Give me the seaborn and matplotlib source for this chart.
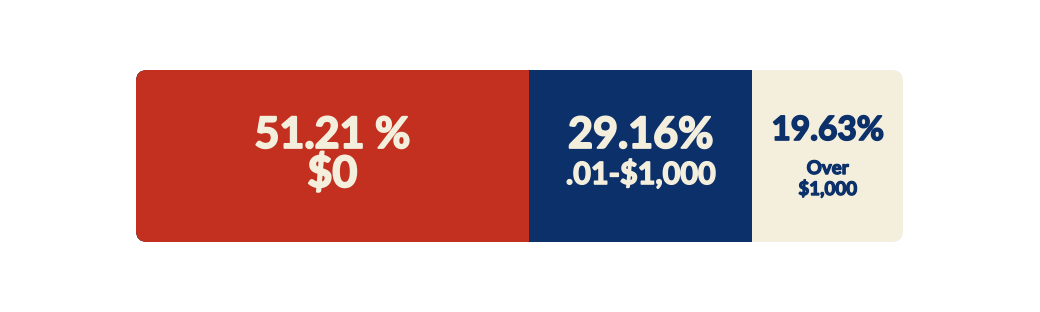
import matplotlib
matplotlib.use("Agg")
import matplotlib.pyplot as plt
import matplotlib.patheffects as pe
import seaborn as sns
import pandas as pd
from matplotlib.patches import FancyBboxPatch
from matplotlib.transforms import Affine2D, blended_transform_factory

# ---- data ----
categories = ["$0", ".01-$1,000", "Over\n$1,000"]
shares = [51.21, 29.16, 19.63]
pct_labels = ["51.21 %", "29.16%", "19.63%"]
colors = ["#C3301F", "#0B306A", "#F4EEDD"]
text_colors = ["#F4EEDD", "#F4EEDD", "#0B306A"]

sns.set_theme(style="white")
plt.rcParams["font.family"] = ["Lato", "DejaVu Sans"]

W, H, DPI = 1040, 312, 100
fig = plt.figure(figsize=(W / DPI, H / DPI), dpi=DPI)
fig.patch.set_facecolor("white")

x0, x1, ytop, ybot = 136, 903, 70, 242
ax = fig.add_axes([x0 / W, (H - ybot) / H, (x1 - x0) / W, (ybot - ytop) / H])

# cumulative ends for stacked look
cum = []
s = 0
for v in shares:
    s += v
    cum.append(s)
df = pd.DataFrame({"seg": categories, "end": cum, "row": ["a"] * 3})
order = list(reversed(categories))
sns.barplot(data=df, x="end", y="row", hue="seg", hue_order=order,
            palette=dict(zip(categories, colors)), dodge=False, width=1.0,
            orient="h", ax=ax, legend=False, saturation=1, edgecolor="none",
            linewidth=0)

ax.set_xlim(0, cum[-1])
ax.set_ylim(0.5, -0.5)
ax.axis("off")

# rounded clip in pixel units
clip = FancyBboxPatch((x0, H - ybot), x1 - x0, ybot - ytop,
                      boxstyle="round,pad=0,rounding_size=11",
                      transform=Affine2D().scale(1 / DPI) + fig.dpi_scale_trans,
                      facecolor="none", edgecolor="none")
for p in ax.patches:
    p.set_clip_path(clip)

tr = blended_transform_factory(ax.transData, ax.transAxes)
starts = [0] + cum[:-1]
centers = [st + v / 2 for st, v in zip(starts, shares)]


def label(xc, yf, txt, size, color, stroke):
    ax.text(xc, yf, txt, transform=tr, ha="center", va="baseline",
            fontsize=size, fontweight="bold", color=color,
            path_effects=[pe.withStroke(linewidth=stroke, foreground=color)])


# segment 1
label(centers[0], 0.547, pct_labels[0], 31, text_colors[0], 1.4)
label(centers[0], 0.32, categories[0], 31, text_colors[0], 1.4)
# segment 2
label(centers[1], 0.547, pct_labels[1], 31, text_colors[1], 1.4)
label(centers[1], 0.337, categories[1], 22, text_colors[1], 1.1)
# segment 3
label(centers[2], 0.593, pct_labels[2], 24, text_colors[2], 1.2)
over, amt = categories[2].split("\n")
label(centers[2], 0.395, over, 13.5, text_colors[2], 0.9)
label(centers[2], 0.273, amt, 13.5, text_colors[2], 0.9)

fig.savefig("out.png", dpi=DPI, facecolor="white")
